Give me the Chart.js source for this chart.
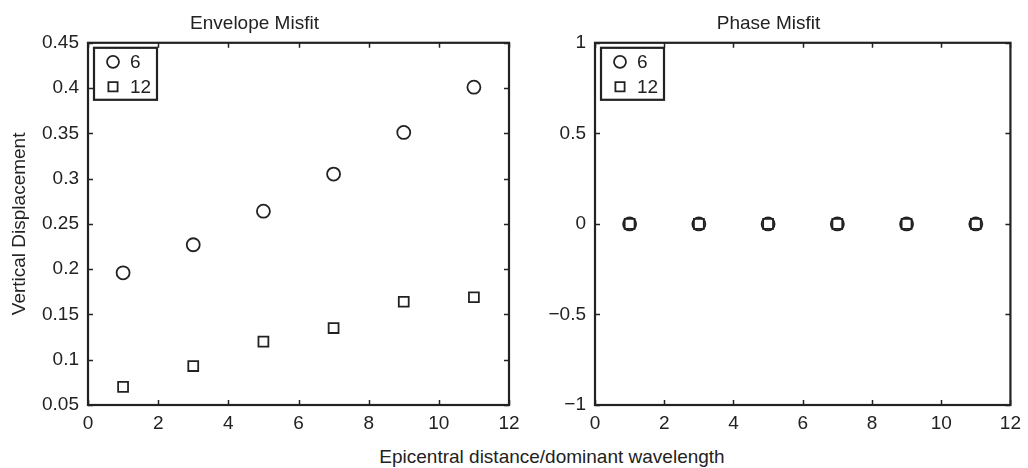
<!DOCTYPE html>
<html>
<head>
<meta charset="utf-8">
<script src="https://cdn.jsdelivr.net/npm/chart.js@4/dist/chart.umd.min.js"></script>
<style>
  html, body { margin: 0; padding: 0; background: #fff; }
  #wrap { position: relative; width: 1028px; height: 468px; overflow: hidden; }
  canvas { position: absolute; top: 0; }
  #c1 { left: 0; }
  #c2 { left: 520px; }
  #xlabel { position: absolute; left: 352px; width: 400px; top: 446px; text-align: center;
            font: 19px "Liberation Sans", Arial, Helvetica, sans-serif; color: #222; line-height: 22px; }
</style>
</head>
<body>
<div id="wrap">
  <canvas id="c1" width="530" height="440"></canvas>
  <canvas id="c2" width="508" height="440"></canvas>
  <div id="xlabel">Epicentral distance/dominant wavelength</div>
</div>
<script>
// ---- data ----
const xValues = [1, 3, 5, 7, 9, 11];
const seriesLabels = ['6', '12'];
const envelope6  = [0.196, 0.227, 0.264, 0.305, 0.351, 0.401];
const envelope12 = [0.070, 0.093, 0.120, 0.135, 0.164, 0.169];
const phase6  = [0, 0, 0, 0, 0, 0];
const phase12 = [0, 0, 0, 0, 0, 0];
const xTicks = [0, 2, 4, 6, 8, 10, 12];
const envelopeYTicks = [0.05, 0.1, 0.15, 0.2, 0.25, 0.3, 0.35, 0.4, 0.45];
const phaseYTicks = [-1, -0.5, 0, 0.5, 1];

const FONT = '"Liberation Sans", Arial, Helvetica, sans-serif';
const INK = '#222';

function pts(ys) { return xValues.map((x, i) => ({ x: x, y: ys[i] })); }

// MATLAB-style frame with inward ticks on all sides
const framePlugin = {
  id: 'frame',
  afterDatasetsDraw(chart) {
    const { ctx, chartArea: a, scales } = chart;
    ctx.save();
    ctx.strokeStyle = INK;
    ctx.lineWidth = 1.5;
    const L = 5;
    ctx.beginPath();
    scales.x.ticks.forEach(t => {
      const px = Math.round(scales.x.getPixelForValue(t.value)) + 0.5;
      ctx.moveTo(px, a.bottom); ctx.lineTo(px, a.bottom - L);
      ctx.moveTo(px, a.top); ctx.lineTo(px, a.top + L);
    });
    scales.y.ticks.forEach(t => {
      const py = Math.round(scales.y.getPixelForValue(t.value)) + 0.5;
      ctx.moveTo(a.left, py); ctx.lineTo(a.left + L, py);
      ctx.moveTo(a.right, py); ctx.lineTo(a.right - L, py);
    });
    ctx.stroke();
    ctx.lineWidth = 2.2;
    ctx.strokeRect(a.left, a.top, a.right - a.left, a.bottom - a.top);
    ctx.restore();
  }
};

// legend box inside the top-left corner of the axes
const innerLegend = {
  id: 'innerLegend',
  afterDraw(chart) {
    const { ctx, chartArea: a } = chart;
    const x0 = a.left + 6, y0 = a.top + 5, w = 63, h = 52;
    ctx.save();
    ctx.fillStyle = '#fff';
    ctx.fillRect(x0, y0, w, h);
    ctx.strokeStyle = INK;
    ctx.lineWidth = 2.2;
    ctx.strokeRect(x0, y0, w, h);
    chart.data.datasets.forEach((ds, i) => {
      const cy = y0 + 14 + i * 25;
      ctx.fillStyle = 'rgba(0,0,0,0)';
      ctx.strokeStyle = INK;
      ctx.lineWidth = ds.borderWidth;
      Chart.helpers.drawPoint(ctx, {
        pointStyle: ds.pointStyle, radius: ds.pointRadius - 0.5, borderWidth: ds.borderWidth
      }, x0 + 19, cy);
      ctx.fillStyle = INK;
      ctx.font = '19px ' + FONT;
      ctx.textBaseline = 'middle';
      ctx.textAlign = 'left';
      ctx.fillText(ds.label, x0 + 36, cy + 1);
    });
    ctx.restore();
  }
};

function makeChart(canvas, title, d6, d12, yTicks, yFmt, yWidth, yTitle, padRight) {
  return new Chart(canvas, {
    type: 'scatter',
    data: {
      datasets: [
        { label: seriesLabels[0], data: pts(d6), pointStyle: 'circle', pointRadius: 6.5,
          borderWidth: 1.8, borderColor: INK, backgroundColor: 'rgba(0,0,0,0)', showLine: false },
        { label: seriesLabels[1], data: pts(d12), pointStyle: 'rect', pointRadius: 7,
          borderWidth: 1.8, borderColor: INK, backgroundColor: 'rgba(0,0,0,0)', showLine: false }
      ]
    },
    options: {
      responsive: false,
      animation: false,
      events: [],
      layout: { padding: { left: 0, right: padRight, top: 0, bottom: 0 } },
      plugins: {
        legend: { display: false },
        tooltip: { enabled: false },
        title: { display: true, text: title, color: INK,
                 font: { size: 19, family: FONT, weight: 'normal' },
                 padding: { top: 12, bottom: 8 } }
      },
      scales: {
        x: {
          type: 'linear', min: xTicks[0], max: xTicks[xTicks.length - 1],
          afterBuildTicks: s => { s.ticks = xTicks.map(v => ({ value: v })); },
          afterFit: s => { s.height = 35; },
          grid: { display: false, drawTicks: false },
          border: { display: false },
          ticks: { color: INK, font: { size: 19, family: FONT }, padding: 7, maxRotation: 0,
                   callback: v => String(v) }
        },
        y: {
          type: 'linear', min: yTicks[0], max: yTicks[yTicks.length - 1],
          afterBuildTicks: s => { s.ticks = yTicks.map(v => ({ value: v })); },
          afterFit: s => { s.width = yWidth; },
          grid: { display: false, drawTicks: false },
          border: { display: false },
          ticks: { color: INK, font: { size: 19, family: FONT }, padding: 9, callback: yFmt },
          title: { display: !!yTitle, text: yTitle || '', color: INK,
                   font: { size: 19, family: FONT }, padding: { top: 8, bottom: 0 } }
        }
      }
    },
    plugins: [framePlugin, innerLegend]
  });
}

const fmtEnv = v => String(Number(v.toFixed(2)));
const fmtPhase = v => (v < 0 ? '\u2212' + String(Math.abs(v)) : String(v));

makeChart(document.getElementById('c1'), 'Envelope Misfit', envelope6, envelope12,
          envelopeYTicks, fmtEnv, 88, 'Vertical Displacement', 21);
makeChart(document.getElementById('c2'), 'Phase Misfit', phase6, phase12,
          phaseYTicks, fmtPhase, 75, '', 11);
</script>
</body>
</html>
